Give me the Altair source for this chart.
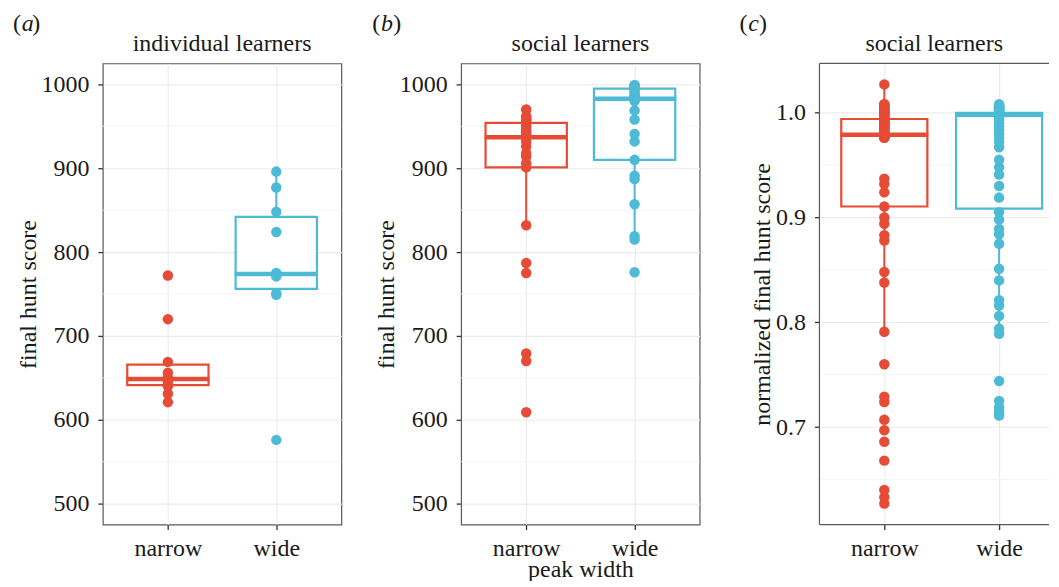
import altair as alt
import numpy as np
import pandas as pd

# ---------------- data ----------------
groups = ["narrow", "wide"]

# (a) individual learners, final hunt score
a_narrow = [772, 720, 669, 656, 650, 647, 645, 640, 631, 621]
a_wide = [896, 877, 848, 824, 775, 773, 771, 751, 749, 576]

# (b) social learners, final hunt score
b_narrow = [970, 962, 960, 958, 957, 955, 954, 951, 948, 944, 941, 939, 937,
            932, 926, 918, 914, 906, 901, 832, 787, 775, 679, 670, 609]
b_wide = [999, 999, 998, 998, 997, 996, 995, 993, 990, 988, 986, 985, 983,
          980, 969, 958, 941, 932, 910, 891, 887, 857, 819, 815, 776]

# (c) social learners, normalized final hunt score
c_narrow = [0.627, 0.633, 0.640, 0.668, 0.686, 0.697, 0.707, 0.724, 0.729, 0.760,
            0.791, 0.838, 0.848, 0.878, 0.883, 0.894, 0.900, 0.9105, 0.924, 0.932,
            0.937, 0.976, 0.976, 0.977, 0.977, 0.977, 0.978, 0.978, 0.978, 0.978,
            0.979, 0.979, 0.979, 0.979, 0.979, 0.980, 0.981, 0.982, 0.983, 0.984,
            0.985, 0.986, 0.987, 0.988, 0.989, 0.990, 0.990, 0.991, 0.992, 0.993,
            0.993, 0.994, 0.995, 0.996, 0.997, 0.998, 0.999, 1.000, 1.000, 1.001,
            1.002, 1.003, 1.004, 1.005, 1.006, 1.007, 1.008, 1.008, 1.027]
c_wide = [0.711, 0.715, 0.719, 0.725, 0.744, 0.789, 0.794, 0.806, 0.816, 0.821,
          0.840, 0.851, 0.875, 0.884, 0.889, 0.898, 0.905, 0.919, 0.930, 0.941,
          0.948, 0.955, 0.967, 0.972, 0.976, 0.980, 0.984, 0.987, 0.990, 0.993,
          0.995, 0.997, 0.998, 0.998, 0.998, 0.998, 0.998, 0.999, 0.999, 0.999,
          0.999, 0.999, 0.999, 0.999, 0.999, 0.999, 0.999, 0.999, 0.999, 1.000,
          1.000, 1.000, 1.001, 1.001, 1.002, 1.002, 1.003, 1.003, 1.004, 1.004,
          1.005, 1.005, 1.006, 1.006, 1.007, 1.008]

score_ticks = [500, 600, 700, 800, 900, 1000]
score_minor = [550, 650, 750, 850, 950]
score_limits = [500, 1000]
norm_ticks = [0.7, 0.8, 0.9, 1.0]
norm_minor = [0.65, 0.75, 0.85, 0.95]

# ---------------- style ----------------
FONT = "Liberation Serif"
FS = 24
TXT = "#1a1a1a"
RED = "#E64B35"
CYAN = "#4DBBD5"
GRID = "#EBEBEB"
MINOR = "#F3F3F3"
BORDER = "#5a5a5a"
H = 462


def summarize(vals):
    v = np.asarray(vals, dtype=float)
    q1, med, q3 = np.percentile(v, [25, 50, 75])
    iqr = q3 - q1
    lo = v[v >= q1 - 1.5 * iqr].min()
    hi = v[v <= q3 + 1.5 * iqr].max()
    return dict(q1=q1, median=med, q3=q3, lo=lo, hi=hi)


def expand(lo, hi):
    r = hi - lo
    return [lo - 0.05 * r, hi + 0.05 * r]


def panel(narrow, wide, ydomain, yticks, yminor, ytitle, ytitle_x, label_fmt,
          title, tag, tag_x, xtitle, width, step, first, open_right=False):
    pts = pd.DataFrame({"group": ["narrow"] * len(narrow) + ["wide"] * len(wide),
                        "value": list(narrow) + list(wide)})
    stats = pd.DataFrame([dict(group=g, **summarize(v))
                          for g, v in zip(groups, [narrow, wide])])
    minor = pd.DataFrame({"m": yminor})
    xpad = (width / step - 1) / 2
    xalign = first / (width - step)
    box_w = 0.75 * step

    xaxis_kw = dict(labelFont=FONT, labelFontSize=FS, labelColor=TXT, labelAngle=0,
                    labelBaseline="alphabetic", labelPadding=26, tickSize=5,
                    grid=True, gridColor=GRID, gridWidth=1.1)
    if xtitle:
        xaxis = alt.Axis(title=xtitle, titleFont=FONT, titleFontSize=FS,
                         titleFontWeight="normal", titleColor=TXT,
                         titleBaseline="alphabetic", titleY=52, **xaxis_kw)
    else:
        xaxis = alt.Axis(title=None, **xaxis_kw)
    xscale = alt.Scale(type="point", domain=groups, padding=xpad, align=xalign)
    X = alt.X("group:N", scale=xscale, axis=xaxis)

    yscale = alt.Scale(domain=ydomain, nice=False, zero=False)
    yaxis = alt.Axis(title=ytitle, values=yticks, format=label_fmt,
                     labelFont=FONT, labelFontSize=FS, labelColor=TXT,
                     labelPadding=9, tickSize=5,
                     titleFont=FONT, titleFontSize=FS, titleFontWeight="normal",
                     titleColor=TXT, titleAngle=270, titleBaseline="alphabetic",
                     titleAlign="center", titleX=ytitle_x, titleY=H / 2,
                     grid=True, gridColor=GRID, gridWidth=1.1)

    def Y(field, **kw):
        return alt.Y(field, type="quantitative", scale=yscale, axis=yaxis, **kw)

    cscale = alt.Scale(domain=groups, range=[RED, CYAN])
    color = alt.Color("group:N", scale=cscale, legend=None)
    stroke = alt.Stroke("group:N", scale=cscale, legend=None)

    minor_rules = alt.Chart(minor).mark_rule(color=MINOR, strokeWidth=0.9).encode(
        y=Y("m"))
    whisk = alt.Chart(stats).mark_rule(strokeWidth=2).encode(
        x=X, y=Y("lo"), y2="hi", color=color)
    box = alt.Chart(stats).mark_bar(size=box_w, fill="white", strokeWidth=2.2,
                                    cornerRadius=0, opacity=1).encode(
        x=X, y=Y("q1"), y2="q3", stroke=stroke)
    med = alt.Chart(stats).mark_tick(size=box_w + 2, thickness=4.5, opacity=1).encode(
        x=X, y=Y("median"), color=color)
    dots = alt.Chart(pts).mark_circle(size=110, opacity=1).encode(
        x=X, y=Y("value"), color=color)

    lab_df = pd.DataFrame({"t": [tag], "title": [title]})
    txt_common = dict(font=FONT, fontSize=FS, color=TXT, baseline="middle")
    t1 = alt.Chart(lab_df).mark_text(align="left", **txt_common).encode(
        x=alt.value(tag_x), y=alt.value(-40), text=alt.value("("))
    t2 = alt.Chart(lab_df).mark_text(align="left", fontStyle="italic",
                                     **txt_common).encode(
        x=alt.value(tag_x + 8.7), y=alt.value(-40), text="t:N")
    t3 = alt.Chart(lab_df).mark_text(align="left", **txt_common).encode(
        x=alt.value(tag_x + 8.7 + (10.7 if tag != "b" else 12.2)), y=alt.value(-40),
        text=alt.value(")"))
    ttl = alt.Chart(lab_df).mark_text(align="center", **txt_common).encode(
        x=alt.value(width / 2), y=alt.value(-19), text="title:N")

    layers = [minor_rules, whisk, box, med, dots, t1, t2, t3, ttl]
    props = dict(width=width, height=H)
    if open_right:
        # frame continues past the page edge: draw left, top and bottom edges only
        edge = dict(color=BORDER, strokeWidth=1.2)
        layers += [
            alt.Chart(lab_df).mark_rule(**edge).encode(
                x=alt.value(0), y=alt.value(0), y2=alt.value(H)),
            alt.Chart(lab_df).mark_rule(**edge).encode(
                x=alt.value(0), x2=alt.value(width), y=alt.value(0)),
            alt.Chart(lab_df).mark_rule(**edge).encode(
                x=alt.value(0), x2=alt.value(width), y=alt.value(H)),
        ]
        props["view"] = alt.ViewBackground(stroke="transparent")
    return alt.layer(*layers).properties(**props)


score_dom = expand(*score_limits)
all_c = c_narrow + c_wide
norm_dom = expand(min(all_c), max(all_c))

pa = panel(a_narrow, a_wide, score_dom, score_ticks, score_minor, "final hunt score",
           -67, "d", "individual learners", "a", -90, None, 239, 108.6, 65.2)
pb = panel(b_narrow, b_wide, score_dom, score_ticks, score_minor, "final hunt score",
           -68, "d", "social learners", "b", -89, "peak width", 239, 108.6, 65.2)
pc = panel(c_narrow, c_wide, norm_dom, norm_ticks, norm_minor,
           "normalized final hunt score", -50, ".1f", "social learners", "c", -80,
           None, 230, 115, 65, open_right=True)

chart = alt.hconcat(pa, pb, pc, spacing=120, bounds="flush").properties(
    padding={"left": 4, "top": 2, "right": 0, "bottom": -2}
).configure_view(
    stroke=BORDER, strokeWidth=1.2
).configure_axis(
    domain=False, tickColor="#333333", tickWidth=1.3
)

chart.save("out.html", embed_options={"renderer": "svg", "actions": False})
